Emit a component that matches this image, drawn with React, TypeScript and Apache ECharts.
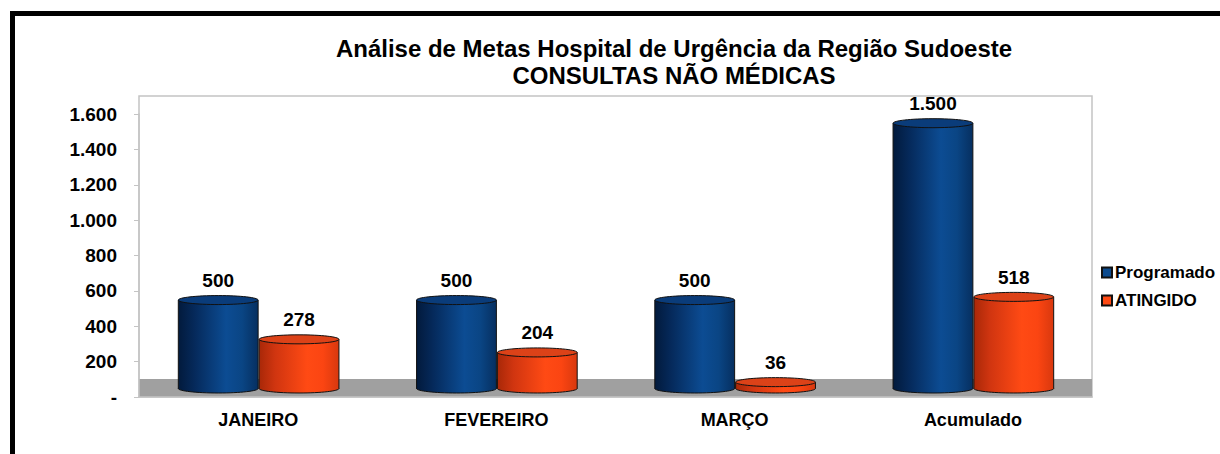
import React, { useEffect, useRef } from "react";
import * as echarts from "echarts";

const categories = ["JANEIRO", "FEVEREIRO", "MARÇO", "Acumulado"];
const programado = [500, 500, 500, 1500];
const atingido = [278, 204, 36, 518];
const seriesNames = ["Programado", "ATINGIDO"];
const titleLines = [
  "Análise de Metas Hospital de Urgência da Região Sudoeste",
  "CONSULTAS NÃO MÉDICAS",
];

const FONT = '"Liberation Sans", Arial, sans-serif';

const fmt = (v: number) =>
  v === 0 ? "-" : String(Math.round(v)).replace(/\B(?=(\d{3})+(?!\d))/g, ".");

const GRID = { left: 139, top: 114, width: 953, height: 283 };
const DEPTH = 18;

const blueBody = () =>
  new echarts.graphic.LinearGradient(0, 0, 1, 0, [
    { offset: 0, color: "#021a3c" },
    { offset: 0.2, color: "#05295a" },
    { offset: 0.6, color: "#0c4c93" },
    { offset: 0.8, color: "#0a4584" },
    { offset: 1, color: "#062f60" },
  ]);
const orangeBody = () =>
  new echarts.graphic.LinearGradient(0, 0, 1, 0, [
    { offset: 0, color: "#a82808" },
    { offset: 0.2, color: "#d03510" },
    { offset: 0.6, color: "#ff4a14" },
    { offset: 0.8, color: "#fb4512" },
    { offset: 1, color: "#d8380e" },
  ]);

function makeRender(kind: number) {
  return (params: any, api: any) => {
    const idx = api.value(0);
    const val = api.value(1);
    const top = api.coord([idx, val]);
    const base = api.coord([idx, 0]);
    const band = api.size([1, 0])[0];
    const bw = band * 0.335;
    const rx = bw / 2;
    const ry = 4.5;
    const shift = 8.5;
    const cx = base[0] + (kind === 0 ? -rx : rx + 1);
    const ty = top[1] - shift;
    const by = base[1] - shift;
    const topFill = kind === 0 ? "#0a3c7a" : "#dc4218";
    return {
      type: "group",
      children: [
        {
          type: "ellipse",
          shape: { cx, cy: by, rx, ry },
          style: { fill: kind === 0 ? blueBody() : orangeBody(), stroke: "#111", lineWidth: 1 },
        },
        {
          type: "rect",
          shape: { x: cx - rx, y: ty, width: bw, height: Math.max(by - ty, 0) },
          style: { fill: kind === 0 ? blueBody() : orangeBody() },
        },
        {
          type: "line",
          shape: { x1: cx - rx, y1: ty, x2: cx - rx, y2: by },
          style: { stroke: "#111", lineWidth: 1 },
        },
        {
          type: "line",
          shape: { x1: cx + rx, y1: ty, x2: cx + rx, y2: by },
          style: { stroke: "#111", lineWidth: 1 },
        },
        {
          type: "ellipse",
          shape: { cx, cy: ty, rx, ry },
          style: { fill: topFill, stroke: "#111", lineWidth: 1 },
        },
        {
          type: "text",
          style: {
            x: cx,
            y: ty - 10,
            text: fmt(val),
            align: "center",
            verticalAlign: "bottom",
            fontSize: 19,
            fontWeight: "bold",
            fontFamily: FONT,
            fill: "#000",
          },
        },
      ],
    };
  };
}

export default function App() {
  const ref = useRef<HTMLDivElement>(null);
  useEffect(() => {
    if (!ref.current) return;
    const chart = echarts.init(ref.current, null, { renderer: "svg" });
    chart.setOption({
      animation: false,
      backgroundColor: "#fff",
      grid: { ...GRID },
      graphic: [
        {
          type: "rect",
          z: -10,
          shape: { x: 12.5, y: 13.5, width: 1400, height: 700 },
          style: { fill: "none", stroke: "#000", lineWidth: 5 },
        },
        {
          type: "rect",
          z: -5,
          shape: {
            x: GRID.left,
            y: GRID.top - DEPTH,
            width: GRID.width,
            height: GRID.height + DEPTH,
          },
          style: { fill: "#fff", stroke: "#c4c4c4", lineWidth: 1.5 },
        },
        {
          type: "rect",
          z: -4,
          shape: {
            x: GRID.left,
            y: GRID.top + GRID.height - DEPTH,
            width: GRID.width,
            height: DEPTH,
          },
          style: { fill: "#a0a0a0" },
        },
        {
          type: "text",
          z: 10,
          style: {
            x: 674,
            y: 48,
            text: titleLines[0],
            align: "center",
            verticalAlign: "middle",
            fontSize: 24,
            fontWeight: "bold",
            fontFamily: FONT,
            fill: "#000",
          },
        },
        {
          type: "text",
          z: 10,
          style: {
            x: 674,
            y: 75,
            text: titleLines[1],
            align: "center",
            verticalAlign: "middle",
            fontSize: 24,
            fontWeight: "bold",
            fontFamily: FONT,
            fill: "#000",
          },
        },
      ],
      legend: {
        orient: "vertical",
        left: 1096,
        top: 259,
        itemWidth: 10,
        itemHeight: 10,
        itemGap: 11,
        icon: "rect",
        data: seriesNames,
        textStyle: {
          fontSize: 17,
          fontWeight: "bold",
          fontFamily: FONT,
          color: "#000",
          padding: [0, 0, 0, -2],
        },
      },
      xAxis: {
        type: "category",
        data: categories,
        axisLine: { lineStyle: { color: "#c4c4c4", width: 1.5 } },
        axisTick: { length: 5, lineStyle: { color: "#c4c4c4" } },
        axisLabel: {
          margin: 14,
          fontSize: 18,
          fontWeight: "bold",
          fontFamily: FONT,
          color: "#000",
        },
      },
      yAxis: {
        type: "value",
        min: 0,
        max: 1600,
        interval: 200,
        axisLine: { show: true, lineStyle: { color: "#c4c4c4", width: 1.5 } },
        axisTick: { show: true, length: 5, lineStyle: { color: "#c4c4c4" } },
        splitLine: { show: false },
        axisLabel: {
          margin: 22,
          formatter: (v: number) => fmt(v),
          fontSize: 19,
          fontWeight: "bold",
          fontFamily: FONT,
          color: "#000",
        },
      },
      series: [
        {
          name: seriesNames[0],
          type: "custom",
          clip: false,
          itemStyle: { color: "#0b4a8e", borderColor: "#111", borderWidth: 1 },
          encode: { x: 0, y: 1 },
          data: programado.map((v, i) => [i, v]),
          renderItem: makeRender(0),
        },
        {
          name: seriesNames[1],
          type: "custom",
          clip: false,
          itemStyle: { color: "#ff4a14", borderColor: "#111", borderWidth: 1 },
          encode: { x: 0, y: 1 },
          data: atingido.map((v, i) => [i, v]),
          renderItem: makeRender(1),
        },
      ],
    });
    return () => chart.dispose();
  }, []);
  return (
    <div
      ref={ref}
      style={{ position: "fixed", left: 0, top: 0, width: 1220, height: 454, background: "#fff" }}
    />
  );
}
